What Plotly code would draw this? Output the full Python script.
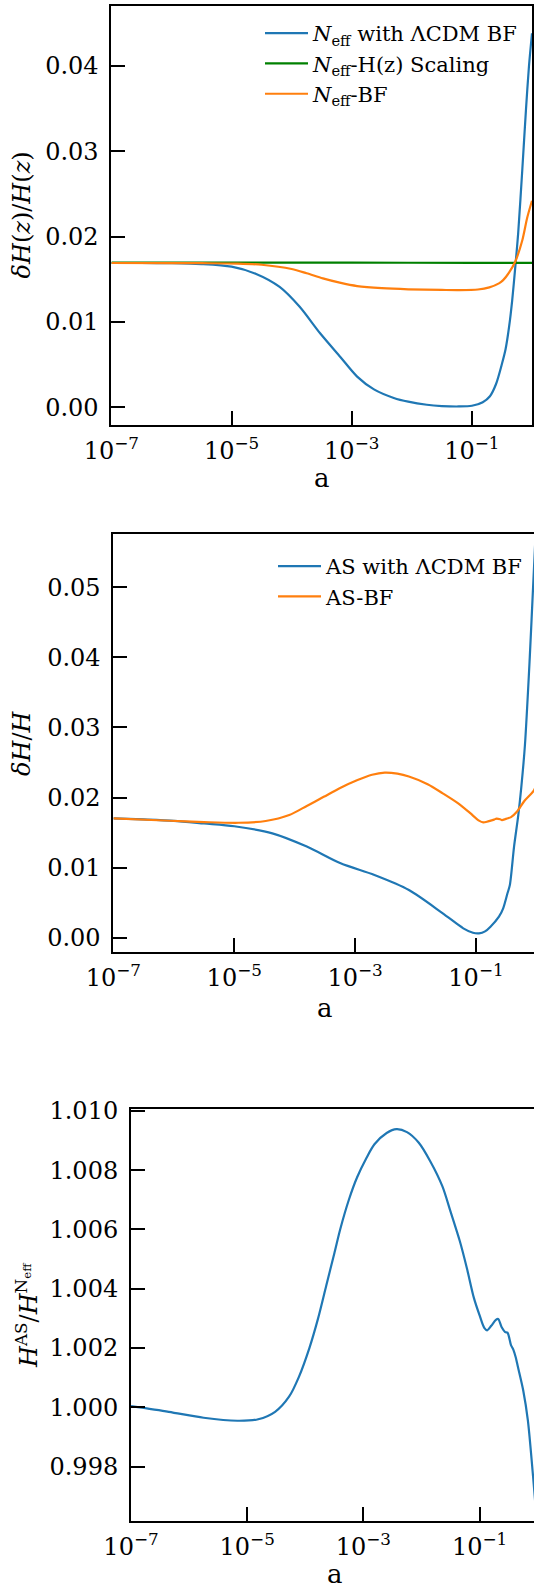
import plotly.graph_objects as go

W, H = 534, 1585

# ---------------- data (log10 a, value) ----------------
# Panel 1
p1_blue_loga = [-7, -6.5, -6, -5.5, -5.0, -4.6, -4.2, -3.87, -3.53, -3.19, -2.91, -2.63, -2.3, -2.06,
                -1.75, -1.5, -1.22, -1.0, -0.82, -0.7, -0.6, -0.5, -0.44, -0.38, -0.33, -0.28,
                -0.23, -0.16, -0.1, -0.05, 0.0]
p1_blue_val = [0.0169, 0.0169, 0.01688, 0.01678, 0.01647, 0.01565, 0.0141, 0.0118, 0.0087, 0.0059,
               0.0036, 0.0021, 0.0011, 0.00066, 0.0003, 0.00015, 0.0001, 0.00018, 0.0006, 0.0013,
               0.0027, 0.0051, 0.0068, 0.0095, 0.0125, 0.0163, 0.0204, 0.0280, 0.0349, 0.0400, 0.0438]

p1_orange_loga = [-7, -6, -5.5, -4.9, -4.5, -4.0, -3.75, -3.48, -3.2, -2.91, -2.5, -2.06, -1.5,
                  -1.22, -0.9, -0.71, -0.55, -0.48, -0.38, -0.28, -0.16, -0.08, 0.0]
p1_orange_val = [0.0169, 0.01689, 0.01688, 0.01684, 0.0167, 0.0162, 0.0157, 0.0151, 0.0146, 0.0142,
                 0.01395, 0.01382, 0.01375, 0.01373, 0.0138, 0.01405, 0.01452, 0.0149, 0.0158, 0.01705,
                 0.0196, 0.0222, 0.0242]

p1_green_loga = [-7, -5, -3, -1, 0.0]
p1_green_val = [0.01695, 0.01695, 0.01694, 0.01692, 0.01692]

# Panel 2
p2_blue_loga = [-7, -6.5, -6, -5.5, -5.0, -4.37, -3.8, -3.24, -2.68, -2.11, -1.55, -1.21, -1.05,
                -0.95, -0.85, -0.76, -0.62, -0.55, -0.48, -0.44, -0.37, -0.30, -0.25, -0.19,
                -0.11, -0.05, 0.0]
p2_blue_val = [0.01703, 0.01688, 0.01668, 0.0163, 0.0159, 0.01489, 0.0130, 0.01061, 0.00894, 0.0068,
               0.00348, 0.00134, 0.0007, 0.00062, 0.0009, 0.00157, 0.0030, 0.0042, 0.0063, 0.0075,
               0.0130, 0.0175, 0.0215, 0.0275, 0.0400, 0.0510, 0.0600]

p2_orange_loga = [-7, -6.06, -5.5, -4.93, -4.48, -4.09, -3.8, -3.52, -3.24, -2.96, -2.72, -2.51,
                  -2.3, -2.11, -1.8, -1.55, -1.3, -1.1, -0.95, -0.88, -0.8, -0.7, -0.66, -0.6,
                  -0.57, -0.52, -0.49, -0.42, -0.32, -0.2, -0.05, 0.0]
p2_orange_val = [0.01703, 0.01669, 0.0165, 0.0164, 0.01665, 0.0175, 0.0188, 0.0201, 0.0214, 0.0225,
                 0.02325, 0.02355, 0.0234, 0.0230, 0.0219, 0.0206, 0.0192, 0.0178, 0.0167, 0.01645,
                 0.0166, 0.01685, 0.0170, 0.0169, 0.01679, 0.0169, 0.0170, 0.0172, 0.0180, 0.0195,
                 0.0209, 0.0218]

# Panel 3
p3_loga = [-7, -6.35, -5.75, -5.17, -4.81, -4.52, -4.28, -4.11, -3.93, -3.78, -3.64, -3.50, -3.40,
           -3.25, -3.11, -2.95, -2.81, -2.6, -2.43, -2.25, -2.05, -1.85, -1.64, -1.5, -1.34, -1.22,
           -1.1, -1.0, -0.92, -0.87, -0.80, -0.72, -0.68, -0.62, -0.56, -0.52, -0.46, -0.42, -0.38,
           -0.34, -0.25, -0.17, -0.08, 0.0]
p3_val = [1.00004, 0.99985, 0.99965, 0.99955, 0.9996, 0.99985, 1.00036, 1.00103, 1.00200, 1.00300,
          1.00410, 1.00520, 1.00600, 1.00700, 1.00775, 1.00840, 1.00887, 1.00925, 1.00938, 1.00928,
          1.00893, 1.0083, 1.00745, 1.0066, 1.0056, 1.0047, 1.0037, 1.0031, 1.00268, 1.0026,
          1.00275, 1.00295, 1.00298, 1.0027, 1.00254, 1.00252, 1.0021, 1.00195, 1.0017, 1.00136,
          1.00058, 0.99957, 0.99767, 0.9958]

x_tick_vals = [1e-7, 1e-5, 1e-3, 1e-1]
x_tick_text = ["10<sup>−7</sup>", "10<sup>−5</sup>", "10<sup>−3</sup>", "10<sup>−1</sup>"]
y1_ticks = [0.0, 0.01, 0.02, 0.03, 0.04]
y2_ticks = [0.0, 0.01, 0.02, 0.03, 0.04, 0.05]
y3_ticks = [0.998, 1.000, 1.002, 1.004, 1.006, 1.008, 1.010]

BLUE, ORANGE, GREEN = "#1f77b4", "#ff7f0e", "#008000"
FONT = "DejaVu Serif"


def tx(v):
    return [10 ** e for e in v]


def px(x):
    return x / W


def py(y):
    return 1 - y / H


fig = go.Figure()
lw = 2.2
common = dict(mode="lines", line_shape="spline")
fig.add_trace(go.Scatter(x=tx(p1_blue_loga), y=p1_blue_val, name="<i>N</i><sub>eff</sub> with ΛCDM BF",
                         line=dict(color=BLUE, width=lw, smoothing=0.8), xaxis="x", yaxis="y", legend="legend", **common))
fig.add_trace(go.Scatter(x=tx(p1_green_loga), y=p1_green_val, name="<i>N</i><sub>eff</sub>-H(z) Scaling",
                         line=dict(color=GREEN, width=lw, smoothing=0.8), xaxis="x", yaxis="y", legend="legend", **common))
fig.add_trace(go.Scatter(x=tx(p1_orange_loga), y=p1_orange_val, name="<i>N</i><sub>eff</sub>-BF",
                         line=dict(color=ORANGE, width=lw, smoothing=0.8), xaxis="x", yaxis="y", legend="legend", **common))
fig.add_trace(go.Scatter(x=tx(p2_blue_loga), y=p2_blue_val, name="AS with ΛCDM BF",
                         line=dict(color=BLUE, width=lw, smoothing=0.8), xaxis="x2", yaxis="y2", legend="legend2", **common))
fig.add_trace(go.Scatter(x=tx(p2_orange_loga), y=p2_orange_val, name="AS-BF",
                         line=dict(color=ORANGE, width=lw, smoothing=0.8), xaxis="x2", yaxis="y2", legend="legend2", **common))
fig.add_trace(go.Scatter(x=tx(p3_loga), y=p3_val, name="ratio", showlegend=False,
                         line=dict(color=BLUE, width=lw, smoothing=0.8), xaxis="x3", yaxis="y3", **common))

axis_common = dict(showline=True, linecolor="black", linewidth=2, ticks="inside", ticklen=14,
                   tickwidth=1.8, tickcolor="black", showgrid=False, zeroline=False, automargin=False,
                   tickfont=dict(family=FONT, size=24, color="black"))

xcommon = dict(type="log", tickvals=x_tick_vals, ticktext=x_tick_text, ticklabelstandoff=3, **axis_common)

fig.update_layout(
    template="none",
    width=W, height=H, margin=dict(l=0, r=0, t=0, b=0, pad=0, autoexpand=False),
    paper_bgcolor="white", plot_bgcolor="white",
    font=dict(family=FONT, color="black"),
    xaxis=dict(domain=[px(111.4), px(532)], range=[-7, 0], anchor="y", mirror=True, **xcommon),
    yaxis=dict(domain=[py(425), py(6)], range=[-0.00207, 0.047], anchor="x", mirror=True,
               tickvals=y1_ticks, tickformat=".2f", ticklabelstandoff=6, **axis_common),
    xaxis2=dict(domain=[px(113.4), 1.0], range=[-7, -0.04], anchor="y2", mirror=True, **xcommon),
    yaxis2=dict(domain=[py(952.3), py(534)], range=[-0.00208, 0.0576], anchor="x2",
                tickvals=y2_ticks, tickformat=".2f", ticklabelstandoff=6, **axis_common),
    xaxis3=dict(domain=[px(131), 1.0], range=[-7, -0.064], anchor="y3", mirror=True, **xcommon),
    yaxis3=dict(domain=[py(1521), py(1109.3)], range=[0.99617, 1.01005], anchor="x3",
                tickvals=y3_ticks, tickformat=".3f", ticklabelstandoff=6, **axis_common),
    legend=dict(x=px(260), y=py(13), xanchor="left", yanchor="top", bgcolor="rgba(0,0,0,0)",
                font=dict(family=FONT, size=21, color="black"), itemwidth=43, tracegroupgap=0),
    legend2=dict(x=px(273), y=py(546), xanchor="left", yanchor="top", bgcolor="rgba(0,0,0,0)",
                 font=dict(family=FONT, size=21, color="black"), itemwidth=43, tracegroupgap=0),
    showlegend=True,
)

ann_font = dict(family=FONT, size=24, color="black")
annotations = [
    dict(text="<i>δH</i>(<i>z</i>)/<i>H</i>(<i>z</i>)", x=px(22), y=py(215.5), textangle=-90),
    dict(text="<i>δH</i>/<i>H</i>", x=px(22), y=py(743), textangle=-90),
    dict(text="<i>H</i><sup>AS</sup>/<i>H</i><sup>N<sub>eff</sub></sup>", x=px(27), y=py(1315), textangle=-90),
    dict(text="a", x=px(321.7), y=py(478), font=dict(family=FONT, size=26, color="black")),
    dict(text="a", x=px(325), y=py(1008), font=dict(family=FONT, size=26, color="black")),
    dict(text="a", x=px(335), y=py(1574), font=dict(family=FONT, size=26, color="black")),
]
for a in annotations:
    a.setdefault("font", ann_font)
    fig.add_annotation(xref="paper", yref="paper", showarrow=False, xanchor="center", yanchor="middle", **a)

fig.write_html(
    "out.html",
    config={"displayModeBar": False, "responsive": False},
    post_script="document.body.style.margin='0';document.body.style.padding='0';"
                "document.documentElement.style.overflow='hidden';document.body.style.overflow='hidden';",
)
